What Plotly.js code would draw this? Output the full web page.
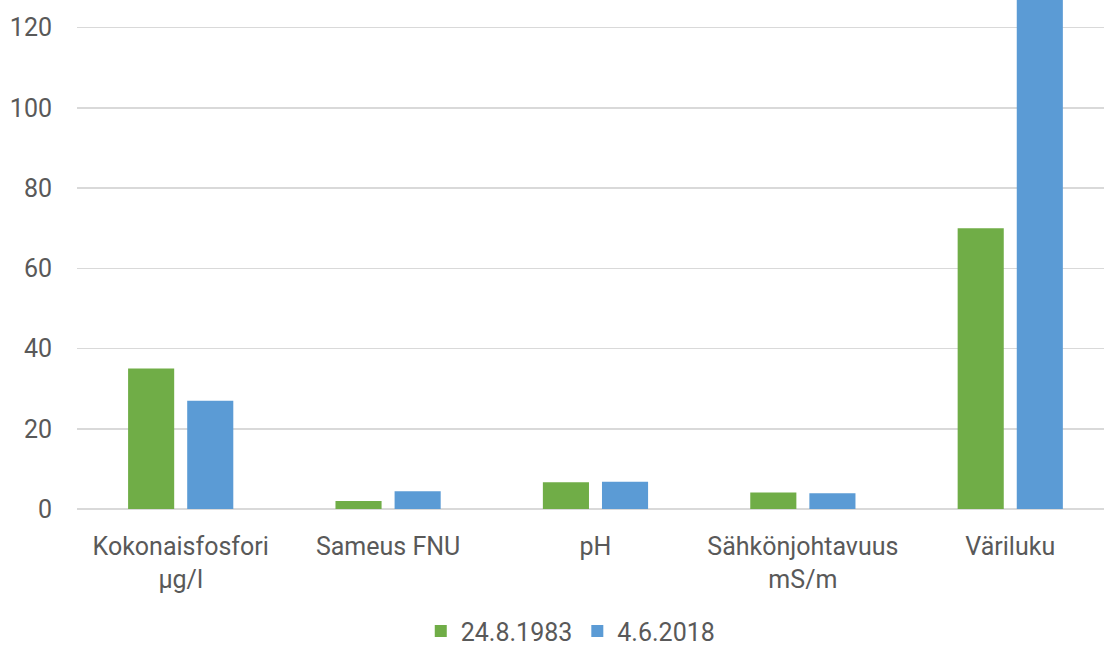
<!DOCTYPE html>
<html>
<head>
<meta charset="utf-8">
<script src="https://cdn.plot.ly/plotly-3.0.1.min.js"></script>
<style>html,body{margin:0;padding:0;background:#fff;overflow:hidden}#chart{width:1104px;height:648px}</style>
</head>
<body>
<div id="chart"></div>
<script>
const categories = ["Kokonaisfosfori<br>µg/l", "Sameus FNU", "pH", "Sähkönjohtavuus<br>mS/m", "Väriluku"];
const series1Name = "24.8.1983";
const series1Values = [35, 2, 6.7, 4.1, 70];
const series2Name = "4.6.2018";
const series2Values = [27, 4.4, 6.8, 3.9, 140];
const yTicks = [0, 20, 40, 60, 80, 100, 120];

const font = "Roboto, 'Open Sans', sans-serif";
const idx = categories.map((_, i) => i);

const traces = [
  {type: "bar", name: series1Name, x: idx, y: series1Values, marker: {color: "#70AD47"}, hoverinfo: "y"},
  {type: "bar", name: series2Name, x: idx, y: series2Values, marker: {color: "#5B9BD5"}, hoverinfo: "y"}
];

const layout = {
  width: 1104, height: 648,
  margin: {l: 77, r: 0, t: 0, b: 138.5, autoexpand: false},
  paper_bgcolor: "#fff", plot_bgcolor: "#fff",
  font: {family: font, color: "#595959", size: 25},
  barmode: "group", bargap: 0.43, bargroupgap: 0.22,
  showlegend: true,
  legend: {orientation: "h", x: 0.517, xref: "container", xanchor: "center", y: 0.026, yref: "container", yanchor: "middle",
           font: {size: 25, color: "#595959"}, itemwidth: 30, traceorder: "normal"},
  xaxis: {range: [-0.5, 4.452], tickmode: "array", tickvals: idx, ticktext: categories, automargin: false,
          showgrid: false, zeroline: false, showline: false, ticks: "", ticklabelstandoff: 20,
          tickfont: {size: 25, color: "#595959"}, fixedrange: true},
  yaxis: {range: [0, 126.9], tickmode: "array", tickvals: yTicks, ticktext: yTicks.map(String), automargin: false,
          showgrid: true, gridcolor: "#d9d9d9", gridwidth: 1.5, zeroline: true, zerolinecolor: "#d9d9d9", zerolinewidth: 1.5,
          showline: false, ticks: "", ticklabelstandoff: 24, tickfont: {size: 25, color: "#595959"}, fixedrange: true}
};

Plotly.newPlot("chart", traces, layout, {displayModeBar: false, staticPlot: true});
</script>
</body>
</html>
